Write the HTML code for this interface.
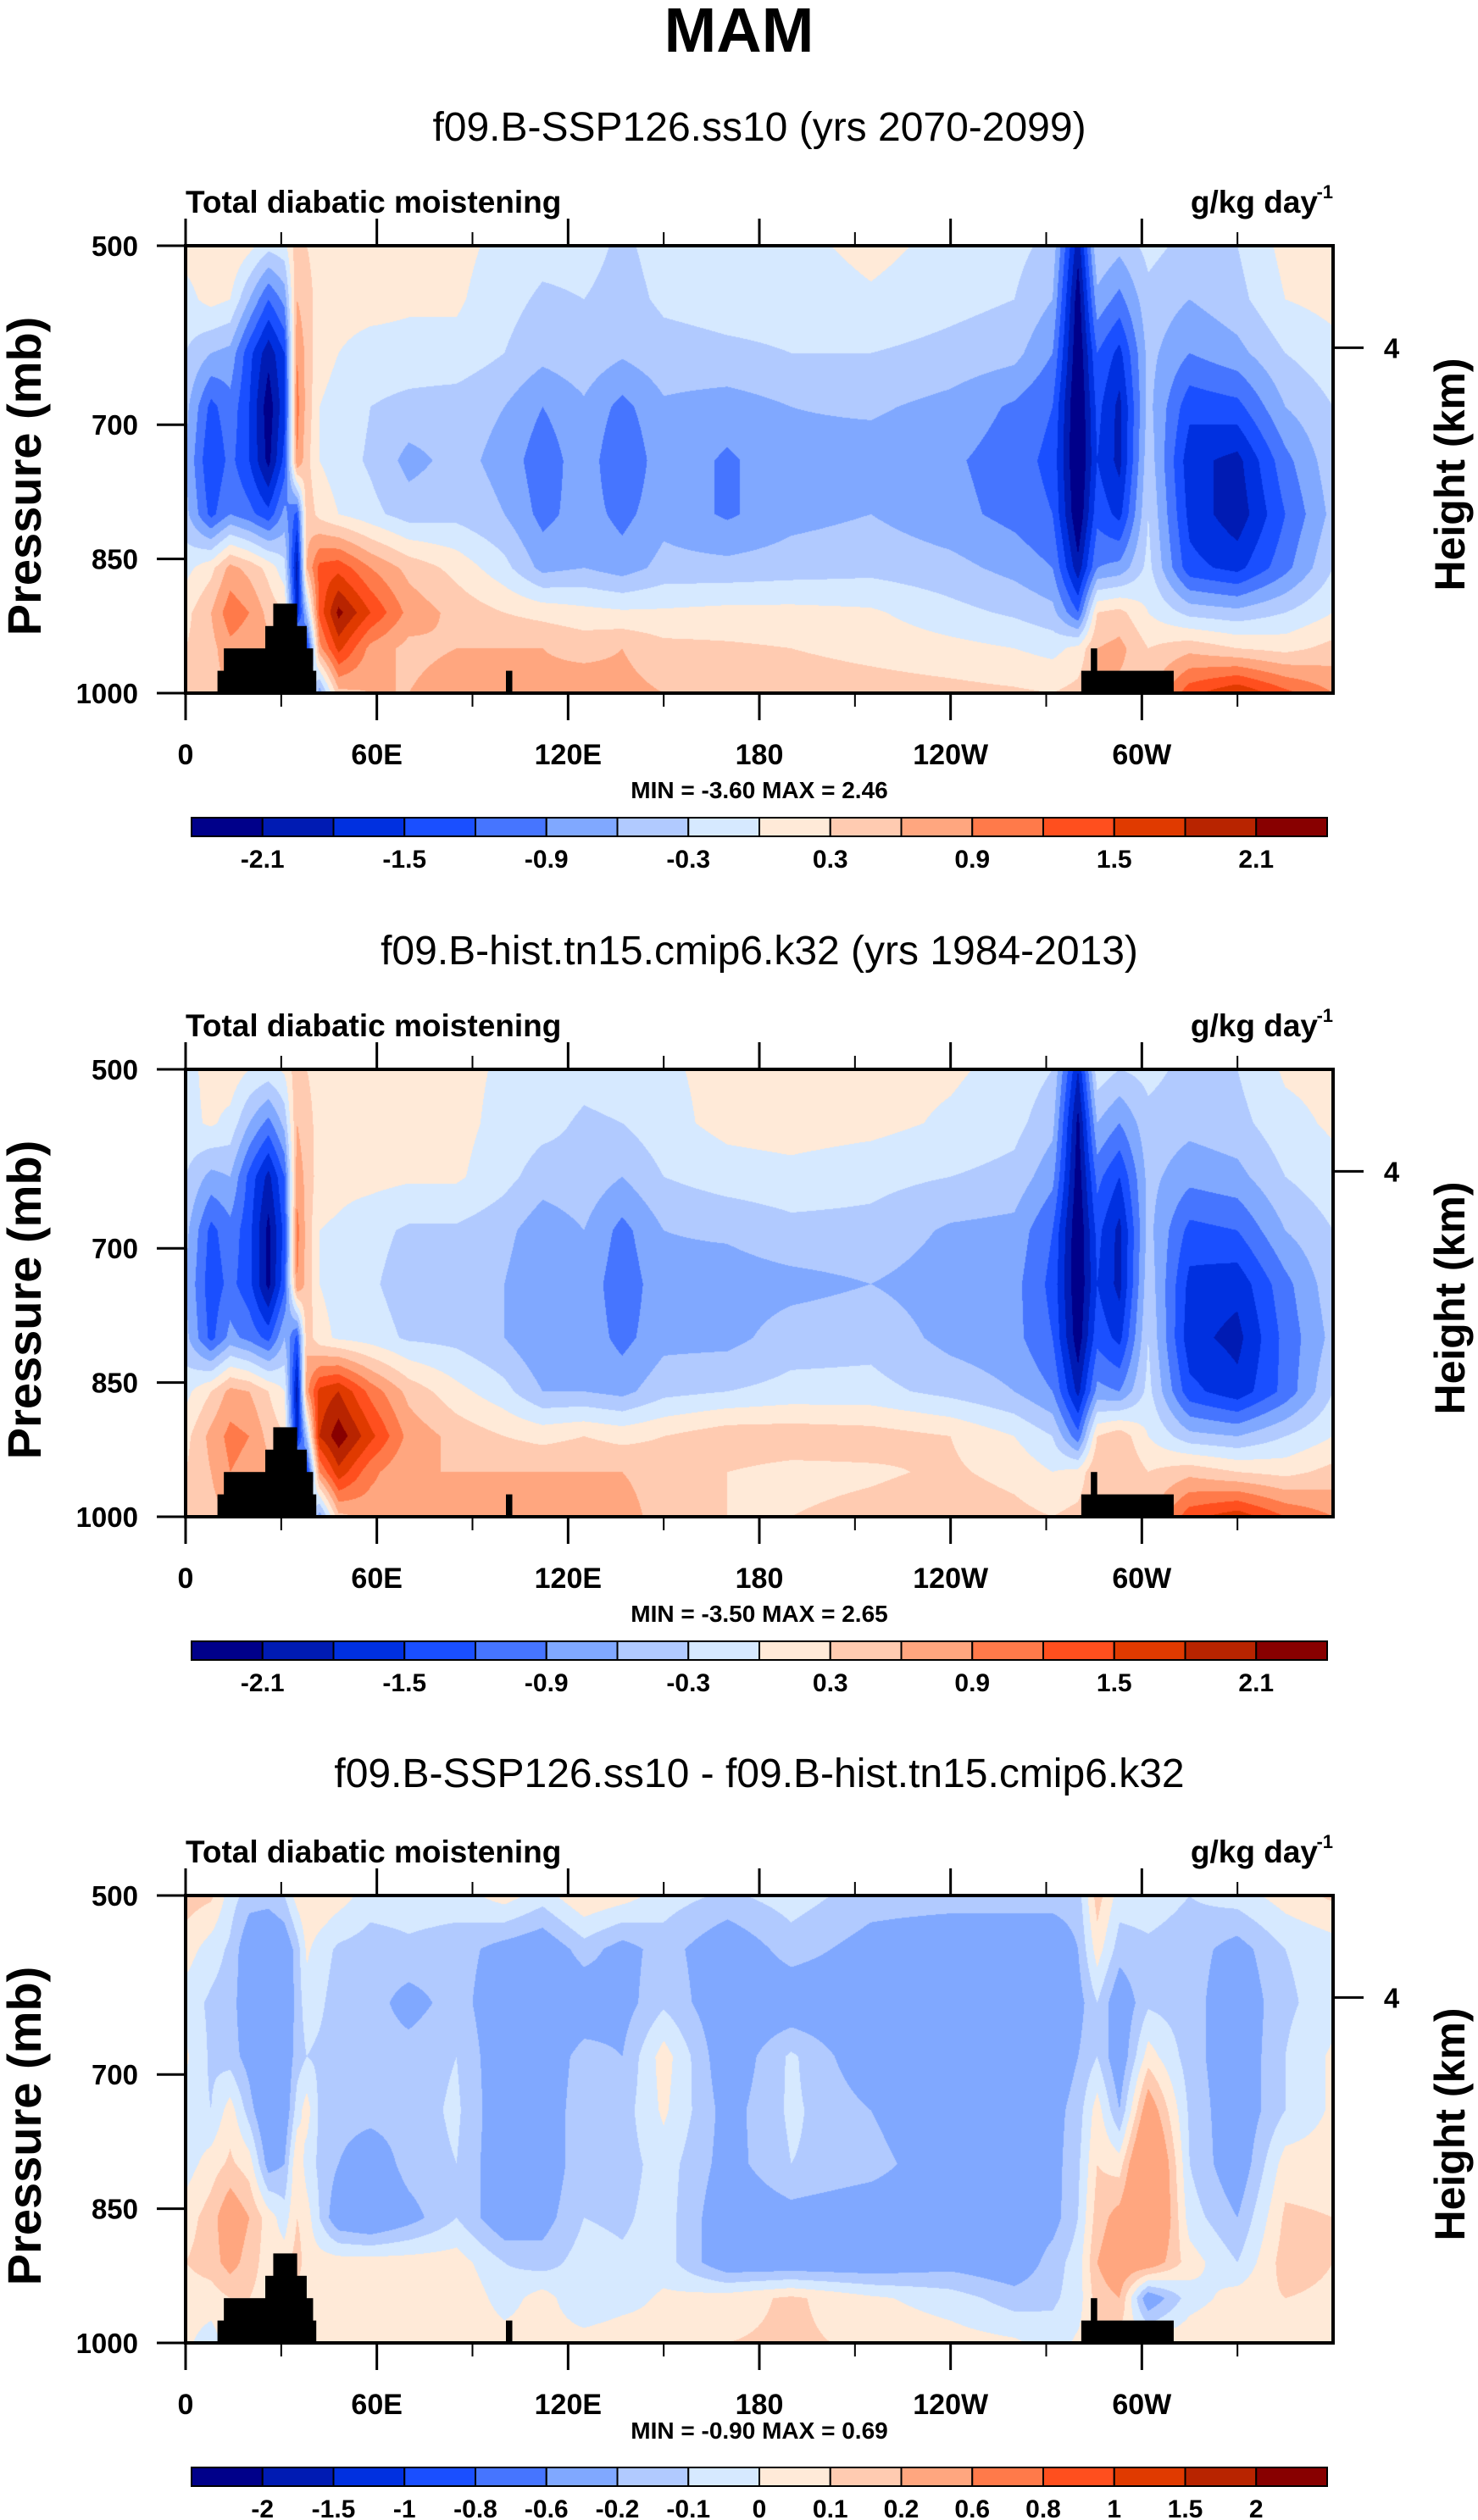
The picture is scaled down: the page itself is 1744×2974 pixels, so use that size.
<!DOCTYPE html>
<html><head><meta charset="utf-8">
<style>
html,body{margin:0;padding:0;background:#fff;}
#root{position:relative;width:1744px;height:2974px;overflow:hidden;font-family:"Liberation Sans",sans-serif;}
canvas{position:absolute;}
svg{position:absolute;left:0;top:0;}
</style></head>
<body>
<div id="root">
<canvas id="c1" width="1354" height="528" style="left:219px;top:290px"></canvas>
<canvas id="c2" width="1354" height="528" style="left:219px;top:1262px"></canvas>
<canvas id="c3" width="1354" height="528" style="left:219px;top:2237px"></canvas>
<svg id="ov" width="1744" height="2974"></svg>
</div>
<script>
// ---- data ----
const lons = [0,8,14,20,26,31,35,38,42,48,58,70,85,100,112,125,137,150,170,190,215,240,260,272,280,286,293,302,315,330,345,360];
const levels = [500,560,620,680,740,800,860,910,950,1000];
const field1 = [
[0.1,0.2,0.3,0.1,-0.2,-0.1,0.5,0.3,0.2,0.15,0.1,0.1,0.1,-0.1,-0.2,-0.2,-0.35,-0.2,-0.15,-0.1,0.1,-0.1,-0.2,-0.4,-2.0,-0.3,-0.5,-0.2,-0.4,-0.3,0.1,0.1],
[-0.1,0.1,0.0,-0.6,-1.2,-0.8,0.6,0.4,0.2,0.1,0.1,0.05,0.05,-0.2,-0.35,-0.3,-0.4,-0.25,-0.2,-0.2,-0.05,-0.2,-0.3,-0.6,-2.3,-0.7,-1.0,-0.4,-0.6,-0.4,0.0,0.1],
[-0.3,-0.6,-0.7,-1.4,-2.0,-1.5,0.9,0.5,0.1,0.0,-0.1,-0.1,-0.1,-0.3,-0.5,-0.4,-0.55,-0.4,-0.35,-0.3,-0.3,-0.4,-0.5,-0.9,-2.4,-1.2,-1.6,-0.5,-0.9,-0.7,-0.3,-0.1],
[-0.5,-1.3,-1.0,-1.5,-2.3,-1.6,1.0,0.5,0.0,-0.1,-0.3,-0.4,-0.45,-0.6,-0.9,-0.65,-1.0,-0.65,-0.75,-0.6,-0.55,-0.7,-0.95,-1.2,-2.5,-1.4,-1.9,-0.5,-1.4,-1.3,-0.6,-0.3],
[-0.6,-1.5,-1.1,-1.5,-2.2,-1.4,0.9,0.4,0.0,-0.15,-0.35,-0.7,-0.5,-0.7,-1.1,-0.7,-1.2,-0.7,-0.95,-0.7,-0.75,-0.85,-1.05,-1.3,-2.5,-1.5,-1.9,-0.4,-1.7,-1.9,-1.0,-0.4],
[-0.5,-1.3,-0.9,-1.1,-1.4,-0.8,-1.3,0.5,0.2,0.0,-0.2,-0.45,-0.4,-0.6,-1.0,-0.75,-1.0,-0.7,-0.95,-0.7,-0.6,-0.8,-1.0,-1.2,-2.4,-1.3,-1.6,-0.3,-1.6,-2.0,-1.2,-0.5],
[-0.1,0.2,0.7,0.5,0.2,-0.2,-2.0,0.6,1.3,1.4,0.9,0.5,0.2,-0.2,-0.7,-0.6,-0.75,-0.5,-0.5,-0.45,-0.4,-0.5,-0.7,-0.9,-2.0,-0.9,-0.8,-0.2,-1.4,-1.6,-1.0,-0.3],
[0.2,0.6,1.1,0.9,0.5,0.3,-1.8,-0.5,1.3,2.2,1.5,0.8,0.5,0.3,0.2,0.1,0.05,0.05,0.1,0.1,0.05,-0.2,-0.35,-0.5,-1.2,0.3,0.4,0.0,-0.4,-0.5,-0.3,0.0],
[0.3,0.5,0.8,0.7,0.7,0.6,0.2,-1.6,0.8,1.6,0.8,0.5,0.6,0.6,0.6,0.5,0.6,0.4,0.35,0.3,0.2,0.1,0.0,-0.1,0.1,0.6,0.7,0.3,0.5,0.3,0.2,0.4],
[0.6,0.5,0.6,0.6,0.6,0.6,0.5,0.5,-0.8,0.5,0.6,0.6,0.8,0.8,0.7,0.8,0.7,0.6,0.5,0.5,0.45,0.4,0.35,0.3,0.4,0.6,0.5,0.5,1.4,1.8,1.3,0.9]
];
const field2 = [
[-0.1,0.1,0.2,0.0,-0.1,0.05,0.5,0.3,0.2,0.1,0.15,0.15,0.1,-0.05,-0.1,-0.2,-0.15,-0.05,0.1,0.15,0.1,0.05,-0.1,-0.3,-1.8,-0.1,-0.3,-0.2,-0.4,-0.3,0.05,0.1],
[-0.1,0.05,-0.1,-0.6,-1.0,-0.5,0.6,0.4,0.2,0.12,0.2,0.15,0.1,-0.1,-0.2,-0.35,-0.3,-0.1,0.1,0.15,0.1,-0.05,-0.2,-0.5,-2.2,-0.6,-0.9,-0.4,-0.5,-0.4,-0.1,0.05],
[-0.3,-0.7,-0.6,-1.3,-1.9,-1.2,0.8,0.5,0.15,0.1,0.1,0.05,0.05,-0.2,-0.45,-0.4,-0.6,-0.3,-0.15,-0.1,-0.2,-0.3,-0.4,-0.8,-2.3,-1.1,-1.5,-0.5,-0.8,-0.7,-0.3,-0.1],
[-0.5,-1.3,-1.0,-1.4,-2.2,-1.4,1.0,0.5,0.0,-0.05,-0.2,-0.35,-0.35,-0.5,-0.8,-0.6,-1.0,-0.6,-0.55,-0.4,-0.4,-0.65,-0.7,-1.2,-2.4,-1.4,-1.9,-0.5,-1.3,-1.2,-0.6,-0.3],
[-0.6,-1.4,-1.1,-1.4,-2.2,-1.3,0.9,0.5,0.0,-0.1,-0.25,-0.45,-0.45,-0.6,-0.9,-0.7,-1.1,-0.7,-0.75,-0.7,-0.6,-0.75,-0.8,-1.3,-2.4,-1.5,-1.9,-0.4,-1.6,-1.7,-1.0,-0.4],
[-0.5,-1.3,-0.8,-1.0,-1.3,-0.6,-1.3,0.5,0.1,-0.05,-0.15,-0.35,-0.4,-0.6,-0.9,-0.7,-1.0,-0.7,-0.7,-0.45,-0.4,-0.7,-0.8,-1.2,-2.3,-1.3,-1.6,-0.3,-1.7,-1.9,-1.1,-0.5],
[-0.1,0.3,0.7,0.6,0.3,0.0,-2.0,0.8,1.6,1.8,1.1,0.5,0.1,-0.2,-0.6,-0.6,-0.7,-0.4,-0.3,-0.2,-0.2,-0.4,-0.6,-0.9,-1.9,-0.8,-0.9,-0.2,-1.4,-1.7,-1.1,-0.3],
[0.2,0.7,1.0,0.9,0.5,0.3,-1.8,-0.5,1.8,2.3,1.6,0.8,0.5,0.3,0.2,0.3,0.2,0.3,0.5,0.5,0.45,0.3,0.0,-0.3,-1.1,0.3,0.5,0.0,-0.5,-0.6,-0.3,0.0],
[0.3,0.6,0.9,0.8,0.7,0.6,0.2,-1.6,0.9,1.7,1.0,0.6,0.6,0.6,0.6,0.6,0.6,0.5,0.3,0.2,0.25,0.35,0.2,0.0,0.1,0.6,0.6,0.3,0.5,0.3,0.2,0.4],
[0.6,0.5,0.6,0.6,0.6,0.6,0.5,0.5,-0.8,0.5,0.7,0.7,0.8,0.9,0.8,0.8,0.7,0.5,0.3,0.3,0.4,0.5,0.4,0.3,0.4,0.6,0.5,0.5,1.4,1.7,1.2,0.9]
];
const field3 = [
[0.15,0.12,-0.05,-0.15,-0.15,-0.1,0.05,0.1,0.1,0.05,-0.05,-0.05,-0.05,0.05,-0.05,0.1,0.05,-0.05,-0.12,-0.05,-0.15,-0.15,-0.15,-0.15,-0.15,0.15,-0.05,-0.05,-0.1,-0.05,0.05,0.12],
[0.05,-0.05,-0.12,-0.3,-0.35,-0.3,-0.15,0.02,-0.05,-0.12,-0.15,-0.12,-0.15,-0.25,-0.3,-0.15,-0.25,-0.15,-0.3,-0.15,-0.25,-0.3,-0.3,-0.3,-0.2,0.05,-0.15,-0.12,-0.15,-0.25,-0.1,-0.05],
[-0.05,-0.12,-0.15,-0.3,-0.45,-0.35,-0.15,-0.05,-0.08,-0.15,-0.15,-0.25,-0.15,-0.3,-0.35,-0.3,-0.25,-0.12,-0.3,-0.3,-0.3,-0.35,-0.35,-0.3,-0.25,-0.1,-0.3,-0.12,-0.15,-0.3,-0.12,-0.05],
[0.02,-0.12,-0.15,-0.25,-0.45,-0.3,-0.15,-0.1,-0.12,-0.15,-0.15,-0.15,-0.1,-0.3,-0.3,-0.15,-0.2,0.05,-0.3,-0.08,-0.3,-0.35,-0.35,-0.3,-0.2,-0.1,-0.3,0.05,-0.15,-0.3,-0.1,0.02],
[-0.05,-0.1,0.05,-0.15,-0.35,-0.3,-0.05,0.05,-0.12,-0.15,-0.15,-0.15,-0.08,-0.3,-0.3,-0.12,-0.15,0.02,-0.25,-0.08,-0.2,-0.35,-0.3,-0.25,-0.15,0.05,-0.2,0.3,-0.12,-0.3,-0.1,0.02],
[-0.05,0.05,0.12,0.05,-0.25,-0.2,0.1,-0.05,-0.12,-0.2,-0.3,-0.15,-0.1,-0.3,-0.3,-0.12,-0.15,-0.05,-0.25,-0.1,-0.15,-0.3,-0.3,-0.25,-0.12,0.1,0.05,0.5,-0.1,-0.3,0.05,0.05],
[0.05,0.15,0.3,0.2,0.05,-0.05,0.1,0.05,-0.1,-0.3,-0.35,-0.25,-0.1,-0.3,-0.25,-0.1,-0.12,-0.05,-0.3,-0.25,-0.3,-0.3,-0.3,-0.25,-0.1,0.15,0.25,0.5,-0.05,-0.2,0.12,0.1],
[0.1,0.15,0.25,0.15,0.05,0.05,0.15,0.05,0.05,0.05,0.05,0.05,0.05,-0.1,-0.15,-0.05,-0.08,-0.05,-0.3,-0.3,-0.3,-0.25,-0.3,-0.15,-0.05,0.2,0.3,0.3,0.05,-0.1,0.15,0.1],
[0.05,0.05,0.1,0.1,0.05,0.1,0.05,0.05,0.05,0.08,0.08,0.05,0.1,-0.05,0.05,-0.1,-0.05,0.02,0.05,0.12,0.02,-0.05,-0.15,-0.12,-0.05,0.15,0.2,-0.3,-0.05,0.05,0.1,0.08],
[0.02,-0.05,0.05,0.05,0.05,0.05,0.05,0.05,0.05,0.05,0.05,0.05,0.08,0.05,0.05,0.05,0.08,0.05,0.1,0.12,0.08,0.05,0.02,-0.05,0.02,0.05,0.05,0.05,0.08,0.1,0.08,0.05]
];
const bounds12 = [-2.1,-1.8,-1.5,-1.2,-0.9,-0.6,-0.3,0,0.3,0.6,0.9,1.2,1.5,1.8,2.1];
const bounds3 = [-2,-1.5,-1,-0.8,-0.6,-0.2,-0.1,0,0.1,0.2,0.6,0.8,1,1.5,2];
const barLabels12 = ["-2.1","","-1.5","","-0.9","","-0.3","","0.3","","0.9","","1.5","","2.1"];
const barLabels3 = ["-2","-1.5","-1","-0.8","-0.6","-0.2","-0.1","0","0.1","0.2","0.6","0.8","1","1.5","2"];
const palette = ["#00008a","#001bb3","#0030e0","#1a4fff","#4675ff","#80a8ff","#b1caff","#d6e9ff","#ffead8","#ffcbb1","#ffa67f","#ff7a4a","#ff4f1e","#e03a00","#b82400","#880000"];
const topoLonStart = [10,12,25,27.5,100.5,281,284];
const topoLonEnd = [41,40,38,35,102.5,310,286];
const topoTopP = [975,950,925,900,975,975,950];
const xTickLons = [0,60,120,180,240,300];
const xTickLabels = ["0","60E","120E","180","120W","60W"];
const minorLons = [30,90,150,210,270,330];
const yTickP = [500,700,850,1000];
const titles = ["f09.B-SSP126.ss10 (yrs 2070-2099)","f09.B-hist.tn15.cmip6.k32 (yrs 1984-2013)","f09.B-SSP126.ss10 - f09.B-hist.tn15.cmip6.k32"];
const minmax = ["MIN = -3.60  MAX =  2.46","MIN = -3.50  MAX =  2.65","MIN = -0.90  MAX =  0.69"];

// ---- geometry ----
const PX0=219, PW=1354, PH=528, P0=500, P1=1000;
const offs=[0,972,1947];
function xOf(lon){return PX0+lon/360*PW;}
function yOf(p,off){return 290+off+(p-P0)/(P1-P0)*PH;}
function hex(c){return [parseInt(c.slice(1,3),16),parseInt(c.slice(3,5),16),parseInt(c.slice(5,7),16)];}
const rgb=palette.map(hex);
function seg(arr,v){let i=0;while(i<arr.length-2&&v>arr[i+1])i++;return i;}
function drawField(id,field,bounds){
  const cv=document.getElementById(id),ctx=cv.getContext('2d');
  const img=ctx.createImageData(PW,PH),d=img.data;
  const xi=[],xt=[];
  for(let x=0;x<PW;x++){const lon=(x+0.5)/PW*360;const i=seg(lons,lon);xi.push(i);xt.push((lon-lons[i])/(lons[i+1]-lons[i]));}
  for(let y=0;y<PH;y++){
    const p=P0+(y+0.5)/PH*(P1-P0);const j=seg(levels,p);const ty=(p-levels[j])/(levels[j+1]-levels[j]);
    const r0=field[j],r1=field[j+1];
    for(let x=0;x<PW;x++){
      const i=xi[x],t=xt[x];
      const a=r0[i]+(r0[i+1]-r0[i])*t,b=r1[i]+(r1[i+1]-r1[i])*t;
      const v=a+(b-a)*ty;
      let k=0;while(k<bounds.length&&v>=bounds[k])k++;
      const c=rgb[k],o=(y*PW+x)*4;d[o]=c[0];d[o+1]=c[1];d[o+2]=c[2];d[o+3]=255;
    }
  }
  ctx.putImageData(img,0,0);
}
drawField('c1',field1,bounds12);
drawField('c2',field2,bounds12);
drawField('c3',field3,bounds3);

// ---- SVG overlay ----
const NS="http://www.w3.org/2000/svg",svg=document.getElementById('ov');
function mk(tag,attrs,parent){const e=document.createElementNS(NS,tag);for(const k in attrs)e.setAttribute(k,attrs[k]);(parent||svg).appendChild(e);return e;}
function txt(s,x,y,size,weight,anchor,parent){const t=mk('text',{x:x,y:y,'font-size':size,'font-weight':weight,'text-anchor':anchor,'font-family':'Liberation Sans, sans-serif',fill:'#000'},parent);t.textContent=s;return t;}

const mam=txt("MAM",872,61,74,"bold","middle");



for(let k=0;k<3;k++){
  const off=offs[k];
  const g=mk('g',{});
  
  
  const st=txt(titles[k],896,166+off-(k==2?4:0),48,"normal","middle",g);
  
  
  const lt=txt("Total diabatic moistening",219,251+off,37,"bold","start",g);
  
  
  const ut=txt("g/kg day",1555,251+off,37,"bold","end",g);
  
  
  const sup=txt("-1",1573,234+off,22,"bold","end",g);
  
  
  for(let i=0;i<topoLonStart.length;i++){
    const r=mk('rect',{x:xOf(topoLonStart[i]),y:yOf(topoTopP[i],off),width:xOf(topoLonEnd[i])-xOf(topoLonStart[i]),height:yOf(1000,off)-yOf(topoTopP[i],off),fill:'#000'},g);
    
    
  }
  const fr=mk('rect',{x:PX0,y:yOf(500,off),width:PW,height:PH,fill:'none',stroke:'#000','stroke-width':4},g);
  
  
  for(let i=0;i<xTickLons.length;i++){
    const x=xOf(xTickLons[i]);
    mk('line',{x1:x,x2:x,y1:yOf(500,off)-32,y2:yOf(500,off),stroke:'#000','stroke-width':3},g);
    mk('line',{x1:x,x2:x,y1:yOf(1000,off),y2:yOf(1000,off)+32,stroke:'#000','stroke-width':3},g);
    const tl=txt(xTickLabels[i],x,902+off,34,"bold","middle",g);
    
    
  }
  for(const m of minorLons){
    const x=xOf(m);
    mk('line',{x1:x,x2:x,y1:yOf(500,off)-16,y2:yOf(500,off),stroke:'#000','stroke-width':2},g);
    mk('line',{x1:x,x2:x,y1:yOf(1000,off),y2:yOf(1000,off)+16,stroke:'#000','stroke-width':2},g);
  }
  for(const p of yTickP){
    const y=yOf(p,off);
    mk('line',{x1:PX0-34,x2:PX0,y1:y,y2:y,stroke:'#000','stroke-width':3},g);
    const yl=txt(String(p),163,y+12,33,"bold","end",g);
    
    
  }
  const hy=yOf(614,off);
  mk('line',{x1:1573,x2:1609,y1:hy,y2:hy,stroke:'#000','stroke-width':3},g);
  const hl=txt("4",1642,hy+12,33,"bold","middle",g);
  
  
  const ya=txt("Pressure (mb)",0,0,56,"bold","middle",g);
  ya.setAttribute('transform','translate(48,'+(562+off)+') rotate(-90)');
  
  
  const ha=txt("Height (km)",0,0,50,"bold","middle",g);
  ha.setAttribute('transform','translate(1728,'+(560+off)+') rotate(-90)');
  
  
  const mm=txt(minmax[k],896,(k==2?2878:942+off),28,"bold","middle",g);
  
  
  const cb=mk('g',{},g);
  
  
  const bx=226,bw=(1566-226)/16,by=965+off;
  for(let i=0;i<16;i++){
    const r=mk('rect',{x:bx+i*bw,y:by,width:bw,height:22,fill:palette[i],stroke:'#000','stroke-width':2},cb);
    
    
  }
  const labs=k==2?barLabels3:barLabels12;
  for(let i=0;i<labs.length;i++){
    if(!labs[i])continue;
    const t=txt(labs[i],bx+(i+1)*bw,by+59,30,"bold","middle",cb);
    
    
  }
}
</script>
</body></html>
